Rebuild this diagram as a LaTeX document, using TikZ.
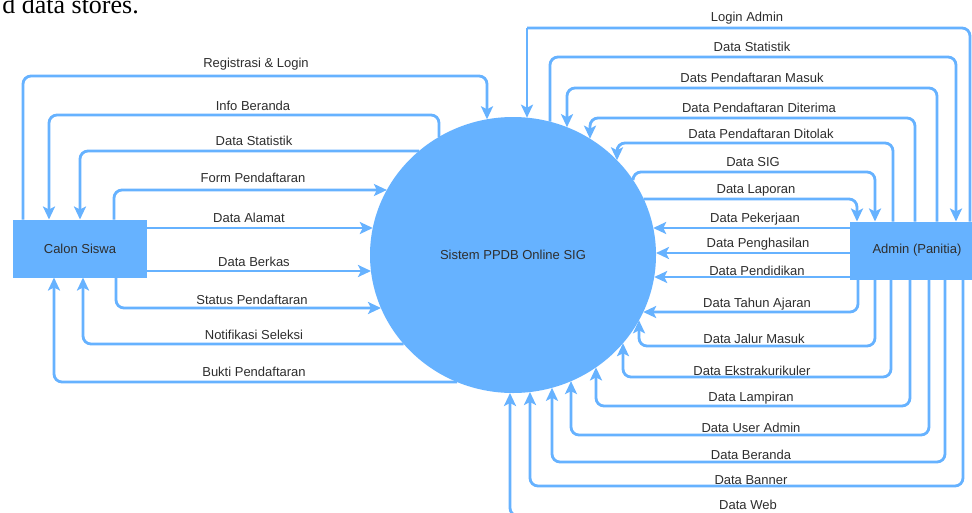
\documentclass[tikz,border=0pt]{standalone}
\usepackage{fontspec}
\setmainfont{Liberation Sans}
\newfontfamily\pagefont{Liberation Serif}
\usetikzlibrary{arrows.meta,shapes.geometric,calc}
\definecolor{dfdblue}{HTML}{66B2FF}
\definecolor{dfdtext}{HTML}{2E2E2E}

\begin{document}
\begin{tikzpicture}[
        x=1pt, y=-1pt,
        entity/.style={rectangle, fill=dfdblue, minimum width=134pt, minimum height=58pt, inner sep=0pt, outer sep=0pt, text=dfdtext, font=\fontsize{13}{15}\selectfont},
        process/.style={ellipse, fill=dfdblue, minimum width=286pt, minimum height=276pt, inner sep=0pt, outer sep=0pt, text=dfdtext, font=\fontsize{13}{15}\selectfont},
        flow/.style={draw=dfdblue, line width=2.8pt, rounded corners=8pt, -{Stealth[length=13pt,width=12pt,inset=3pt]}},
        line/.style={draw=dfdblue, line width=2.8pt, rounded corners=8pt},
        lbl/.style={text=dfdtext, inner sep=0pt, font=\fontsize{13}{15}\selectfont}
    ]

    % Page background
    \path[fill=white] (0,0) rectangle (972,512);
    \useasboundingbox (0,0) rectangle (972,512);
    \node[anchor=base east, inner sep=0pt, font=\pagefont\fontsize{26}{28}\selectfont] (pagetext) at (139,13) {d data stores.};

    % External entities and process
    \node[entity] (calon) at (80,248.5) {Calon Siswa};
    \node[entity] (admin) at (917,250.5) {Admin (Panitia)};
    \node[process] (sys) at (513,255) {Sistem PPDB Online SIG};

    % Calon Siswa flows
    \draw[flow] (calon.north -| 23,0) |- (487,76) -- ($(sys.center)+(-26,-135.7)$);
    \draw[flow] ($(sys.center)+(-74,-118.1)$) |- (49,115) -- (calon.north -| 49,0);
    \draw[flow] ($(sys.center)+(-94,-104)$) -| (calon.north -| 80,0);
    \draw[flow] (calon.north -| 114,0) |- ($(sys.center)+(-126.1,-65)$);
    \draw[flow] (calon.east |- 0,228) -- ($(sys.center)+(-140.2,-27)$);
    \draw[flow] (calon.east |- 0,271) -- ($(sys.center)+(-142,16)$);
    \draw[flow] (calon.south -| 116,0) |- ($(sys.center)+(-132,53)$);
    \draw[flow] ($(sys.center)+(-109.3,89)$) -| (calon.south -| 83,0);
    \draw[flow] ($(sys.center)+(-56,127)$) -| (calon.south -| 54,0);

    \node[lbl] (l1) at (256,64) {Registrasi \& Login};
    \node[lbl] (l2) at (253,106) {Info Beranda};
    \node[lbl] (l3) at (254,141) {Data Statistik};
    \node[lbl] (l4) at (253,178) {Form Pendaftaran};
    \node[lbl] (l5) at (249,218) {Data Alamat};
    \node[lbl] (l6) at (254,262) {Data Berkas};
    \node[lbl] (l7) at (252,300) {Status Pendaftaran};
    \node[lbl] (l8) at (254,335) {Notifikasi Seleksi};
    \node[lbl] (l9) at (254,372) {Bukti Pendaftaran};

    % Admin flows, top
    \draw[line] (admin.north -| 970,0) |- (527,28);
    \draw[flow] (527,28) -- ($(sys.center)+(14,-137.3)$);
    \draw[flow] ($(sys.center)+(37,-133.3)$) |- (956,57) -- (admin.north -| 956,0);
    \draw[flow] (admin.north -| 937,0) |- (567,88) -- ($(sys.center)+(54,-127.8)$);
    \draw[flow] (admin.north -| 915,0) |- (590,118) -- ($(sys.center)+(77,-116.3)$);
    \draw[flow] (admin.north -| 893,0) |- (617,143) -- ($(sys.center)+(104,-94.7)$);
    \draw[flow] ($(sys.center)+(120,-75)$) |- (875,172) -- (admin.north -| 875,0);
    \draw[flow] ($(sys.center)+(130.7,-56)$) -| (admin.north -| 857,0);

    % Admin flows, middle
    \draw[flow] (admin.west |- 0,228) -- ($(sys.center)+(140.2,-27)$);
    \draw[flow] (admin.west |- 0,253) -- ($(sys.center)+(143,-2)$);
    \draw[flow] (admin.west |- 0,277) -- ($(sys.center)+(141.2,22)$);
    \draw[flow] (admin.south -| 858,0) |- ($(sys.center)+(130.2,57)$);

    % Admin flows, bottom
    \draw[flow] (admin.south -| 875,0) |- (639,346) -- ($(sys.center)+(126,65.3)$);
    \draw[flow] (admin.south -| 891,0) |- (623,377) -- ($(sys.center)+(110,88.2)$);
    \draw[flow] (admin.south -| 910,0) |- (596,406) -- ($(sys.center)+(83,112.4)$);
    \draw[flow] (admin.south -| 929,0) |- (571,435) -- ($(sys.center)+(58,126.1)$);
    \draw[flow] (admin.south -| 945,0) |- (552,462) -- ($(sys.center)+(39,132.8)$);
    \draw[flow] (admin.south -| 963,0) |- (530,486) -- ($(sys.center)+(17,137)$);
    \draw[flow] (admin.south -| 980,0) |- (510,516) -- ($(sys.center)+(-3,138)$);

    \node[lbl] (r1) at (747,18) {Login Admin};
    \node[lbl] (r2) at (752,47) {Data Statistik};
    \node[lbl] (r3) at (752,78) {Dats Pendaftaran Masuk};
    \node[lbl] (r4) at (759,108) {Data Pendaftaran Diterima};
    \node[lbl] (r5) at (761,134) {Data Pendaftaran Ditolak};
    \node[lbl] (r6) at (753,162) {Data SIG};
    \node[lbl] (r7) at (756,190) {Data Laporan};
    \node[lbl] (r8) at (755,219) {Data Pekerjaan};
    \node[lbl] (r9) at (758,244) {Data Penghasilan};
    \node[lbl] (r10) at (757,271) {Data Pendidikan};
    \node[lbl] (r11) at (757,304) {Data Tahun Ajaran};
    \node[lbl] (r12) at (754,339) {Data Jalur Masuk};
    \node[lbl] (r13) at (752,371) {Data Ekstrakurikuler};
    \node[lbl] (r14) at (751,398) {Data Lampiran};
    \node[lbl] (r15) at (751,428) {Data User Admin};
    \node[lbl] (r16) at (751,455) {Data Beranda};
    \node[lbl] (r17) at (751,480) {Data Banner};
    \node[lbl] (r18) at (748,505) {Data Web};

\end{tikzpicture}
\end{document}
